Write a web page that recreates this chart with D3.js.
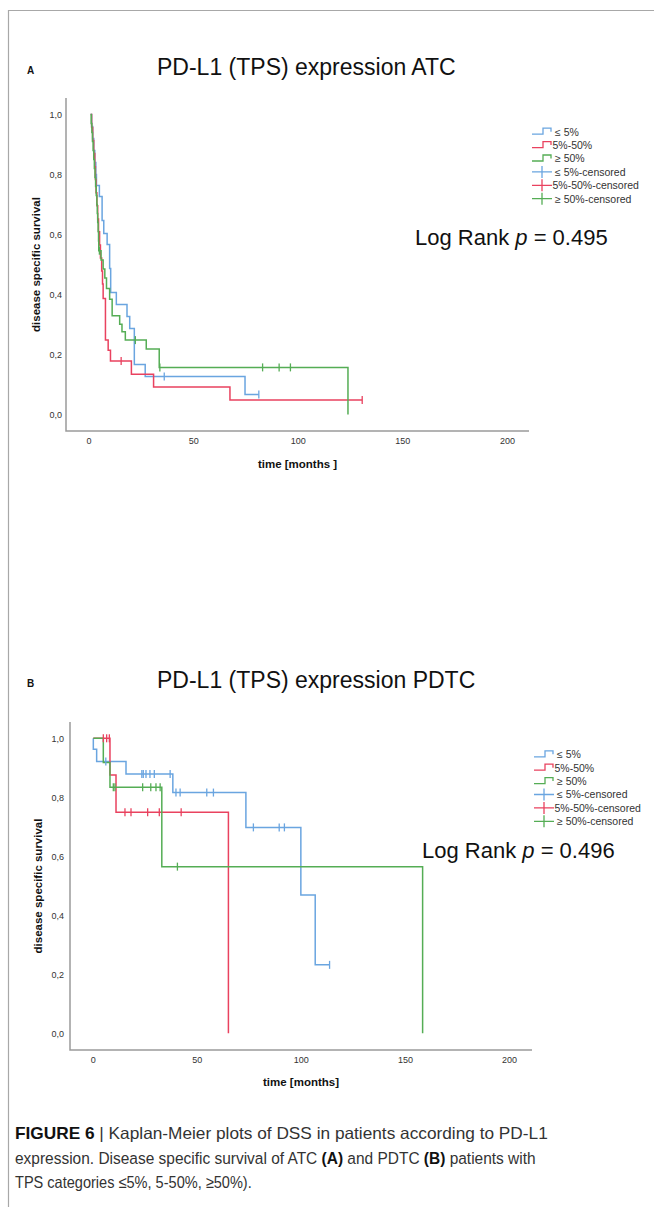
<html>
<style>
  body { margin: 0; background: #fff; }
  svg text { font-family: "Liberation Sans", Arial, sans-serif; }
</style>
<body>
<script src="https://d3js.org/d3.v7.min.js"></script>
<script>
// ---- data (time in months, survival 0..1) ----
const groups = ["≤ 5%", "5%-50%", "≥ 50%"]
const legendLabels = ["≤ 5%", "5%-50%", "≥ 50%", "≤ 5%-censored", "5%-50%-censored", "≥ 50%-censored"]
const colors = ["#6aa5e0", "#e9425f", "#55ad55"]
const xTicks = [0, 50, 100, 150, 200]
const yTicks = [0, 0.2, 0.4, 0.6, 0.8, 1.0]

// panel A: ATC
const atcLow = [[1,1],[1.5,0.96],[2,0.92],[2.5,0.88],[3,0.84],[3.5,0.80],[3.8,0.763],[5.2,0.727],[6.5,0.647],[7.3,0.603],[8.9,0.567],[10.1,0.487],[10.6,0.407],[13.3,0.367],[18.4,0.327],[19.7,0.287],[21.9,0.167],[27.1,0.127],[74.8,0.067],[81.4,0.067]]
const atcLowCens = [[36.2,0.127],[81.4,0.067]]
const atcMid = [[1,1],[1.5,0.957],[2,0.913],[2.5,0.87],[3,0.826],[3.3,0.783],[3.6,0.739],[4,0.696],[4.4,0.652],[4.8,0.609],[5.3,0.565],[5.7,0.522],[6.3,0.478],[6.7,0.435],[7,0.387],[8.1,0.248],[9.4,0.214],[10.5,0.178],[20.5,0.134],[31.1,0.092],[67.6,0.048],[130.8,0.048]]
const atcMidCens = [[15.6,0.178],[130.8,0.048]]
const atcHigh = [[1,1],[1.3,0.97],[1.6,0.94],[1.9,0.91],[2.2,0.88],[2.5,0.85],[2.8,0.82],[3.1,0.79],[3.4,0.76],[3.7,0.73],[4,0.70],[4.2,0.67],[4.4,0.64],[4.6,0.61],[4.8,0.578],[4.9,0.546],[6,0.515],[7,0.485],[7.8,0.455],[8.6,0.42],[10.1,0.384],[11.3,0.329],[14.9,0.301],[16,0.276],[17.6,0.248],[27.6,0.218],[33.8,0.157],[124,0]]
const atcHighCens = [[5.2,0.546],[22.4,0.248],[34.1,0.157],[83.2,0.157],[91.1,0.157],[96.5,0.157]]

// panel B: PDTC
const pdtcLow = [[0.3,1],[0.3,0.963],[1.9,0.921],[16,0.879],[38.5,0.816],[73.6,0.698],[100,0.469],[106.9,0.232],[113.8,0.232]]
const pdtcLowCens = [[6.3,0.921],[23.6,0.879],[24.3,0.879],[25.6,0.879],[27.5,0.879],[29.6,0.879],[37.2,0.879],[40,0.816],[42,0.816],[54.8,0.816],[58,0.816],[77.2,0.698],[89.6,0.698],[92.1,0.698],[113.8,0.232]]
const pdtcMid = [[0.3,1],[8.3,0.876],[11.2,0.749],[65.2,0]]
const pdtcMidCens = [[5.1,1],[6.7,1],[8,1],[15.5,0.749],[18.4,0.749],[26.4,0.749],[32,0.749],[42.5,0.749]]
const pdtcHigh = [[0.3,1],[5.1,0.918],[8.3,0.834],[33.2,0.565],[158.5,0]]
const pdtcHighCens = [[9.9,0.834],[10.7,0.834],[24,0.834],[27.9,0.834],[30.4,0.834],[32.4,0.834],[40.7,0.565]]

const W = 654, H = 1207
const svg = d3.select("body").append("svg")
    .attr("width", W).attr("height", H)

// outer figure frame
svg.append("path")
    .attr("d", `M8.5,${H} V10.5 H${W}`)
    .attr("fill", "none").attr("stroke", "#a8a8a8").attr("stroke-width", 1.2)

const fmt = d => d.toFixed(1).replace(".", ",")

function drawPanel(p) {
    const x = d3.scaleLinear().domain([0, 200]).range(p.xRange)
    const y = d3.scaleLinear().domain([0, 1]).range(p.yRange)
    const g = svg.append("g")

    g.append("text").attr("x", 27).attr("y", p.letterY)
        .attr("font-size", 10).attr("font-weight", "bold").attr("fill", "#111").text(p.letter)
    g.append("text").attr("x", 157).attr("y", p.titleY)
        .attr("font-size", 23).attr("fill", "#111").text(p.title)

    // axis frame lines
    g.append("path")
        .attr("d", `M${p.axisX},${p.axisTop} V${p.axisY} H${p.axisRight}`)
        .attr("fill", "none").attr("stroke", "#9a9a9a").attr("stroke-width", 1.5)

    // tick labels via d3 axes, with no ticks or domain
    const xa = g.append("g").attr("transform", `translate(0,${p.axisY + 3})`)
        .call(d3.axisBottom(x).tickValues(xTicks).tickSize(0).tickPadding(4))
    const ya = g.append("g").attr("transform", `translate(${p.yLabelRight},0)`)
        .call(d3.axisLeft(y).tickValues(yTicks).tickFormat(fmt).tickSize(0).tickPadding(0))
    for (const a of [xa, ya]) {
        a.select(".domain").remove()
        a.selectAll("text").attr("font-size", 9).attr("fill", "#333")
            .attr("font-family", "Liberation Sans, Arial, sans-serif")
    }

    g.append("text").attr("x", (p.axisX + p.axisRight) / 2).attr("y", p.xTitleY)
        .attr("text-anchor", "middle").attr("font-size", 11.5).attr("font-weight", "bold")
        .attr("fill", "#111").text(p.xTitle)
    g.append("text")
        .attr("transform", `translate(${p.yTitleX},${(p.axisTop + p.axisY) / 2}) rotate(-90)`)
        .attr("text-anchor", "middle").attr("font-size", 11.5).attr("font-weight", "bold")
        .attr("fill", "#111").text("disease specific survival")

    const line = d3.line().x(d => x(d[0])).y(d => y(d[1])).curve(d3.curveStepAfter)
    p.curves.forEach((c, i) => {
        g.append("path").datum(c).attr("d", line)
            .attr("fill", "none").attr("stroke", colors[i]).attr("stroke-width", 1.5)
    })
    p.censored.forEach((c, i) => {
        g.selectAll(null).data(c).join("line")
            .attr("x1", d => x(d[0])).attr("x2", d => x(d[0]))
            .attr("y1", d => y(d[1]) - 4).attr("y2", d => y(d[1]) + 4)
            .attr("stroke", colors[i]).attr("stroke-width", 1.3)
    })

    // legend
    const lg = g.append("g").attr("transform", `translate(${p.legendX},${p.legendY})`)
    legendLabels.forEach((lab, i) => {
        const c = colors[i % 3], yy = i * 13.4
        if (i < 3) {
            lg.append("path").attr("d", `M0,${yy + 2.5} H11 V${yy - 3.5} H19 V${yy}`)
                .attr("fill", "none").attr("stroke", c).attr("stroke-width", 1.3)
        } else {
            lg.append("path").attr("d", `M0,${yy} H20 M10,${yy - 6} V${yy + 6}`)
                .attr("fill", "none").attr("stroke", c).attr("stroke-width", 1.3)
        }
        lg.append("text").attr("x", lab.startsWith("5") ? 20.5 : 23).attr("y", yy + 4)
            .attr("font-size", 10.5).attr("fill", "#333").text(lab)
    })

    const lr = g.append("text").attr("x", p.lrX).attr("y", p.lrY)
        .attr("font-size", 22).attr("fill", "#111")
    lr.append("tspan").text("Log Rank ")
    lr.append("tspan").attr("font-style", "italic").text("p")
    lr.append("tspan").text(" = " + p.pValue)
}

drawPanel({
    letter: "A", letterY: 74, title: "PD-L1 (TPS) expression ATC", titleY: 75,
    xRange: [88.5, 507], yRange: [414.5, 114.5],
    axisX: 66, axisTop: 98, axisY: 431, axisRight: 529, yLabelRight: 62,
    xTitle: "time [months ]", xTitleY: 468, yTitleX: 40,
    curves: [atcLow, atcMid, atcHigh], censored: [atcLowCens, atcMidCens, atcHighCens],
    legendX: 532, legendY: 131.7, lrX: 415, lrY: 245, pValue: "0.495"
})

drawPanel({
    letter: "B", letterY: 687, title: "PD-L1 (TPS) expression PDTC", titleY: 688,
    xRange: [92.7, 509], yRange: [1033.3, 738.3],
    axisX: 70, axisTop: 722, axisY: 1050, axisRight: 532, yLabelRight: 64,
    xTitle: "time [months]", xTitleY: 1086, yTitleX: 42,
    curves: [pdtcLow, pdtcMid, pdtcHigh], censored: [pdtcLowCens, pdtcMidCens, pdtcHighCens],
    legendX: 534, legendY: 754.3, lrX: 422, lrY: 858, pValue: "0.496"
})

// caption: each line is squeezed horizontally to the reference width
const capLines = [
    [["FIGURE 6", true], [" | Kaplan-Meier plots of DSS in patients according to PD-L1", false]],
    [["expression. Disease specific survival of ATC ", false], ["(A)", true], [" and PDTC ", false], ["(B)", true], [" patients with", false]],
    [["TPS categories ≤5%, 5-50%, ≥50%).", false]]
]
const capWidths = [533, 521, 237]
capLines.forEach((parts, i) => {
    const t = svg.append("text").attr("x", 0).attr("y", 0)
        .attr("font-size", 16.5).attr("fill", "#333")
    parts.forEach(([s, b]) => t.append("tspan").attr("font-weight", b ? "bold" : "normal")
        .attr("fill", b ? "#111" : "#333").text(s))
    const w = t.node().getComputedTextLength()
    t.attr("transform", `translate(15,${1139 + i * 24.5}) scale(${capWidths[i] / w},1)`)
})
</script>
</body>
</html>
